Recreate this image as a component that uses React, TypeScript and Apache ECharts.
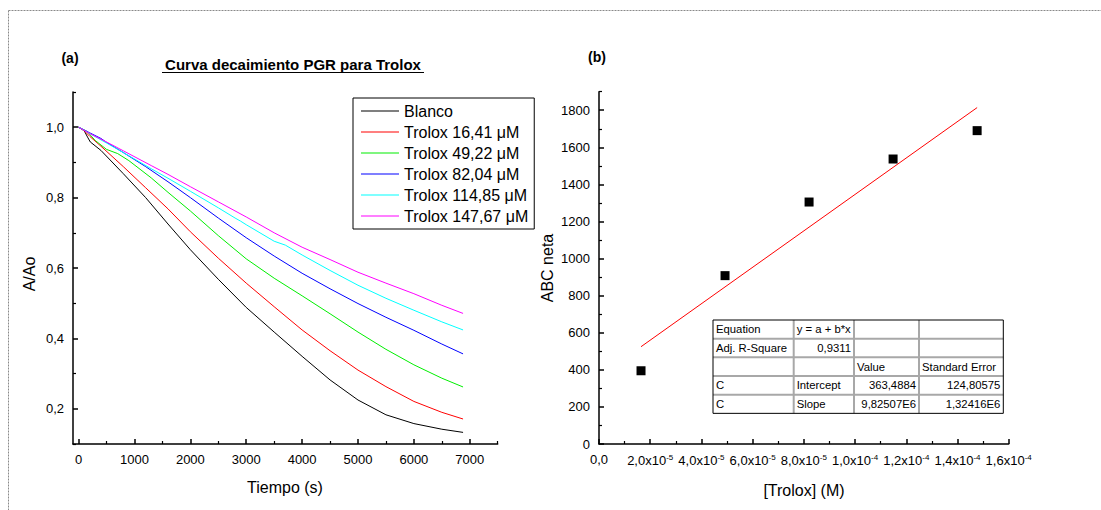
import React, { useEffect, useRef } from "react";
import * as echarts from "echarts";

// ---------- Data: panel (a) decay curves ----------
const blancoT = [0, 100, 160, 210, 400, 800, 1200, 1600, 2000, 2500, 3000, 3500, 4000, 4500, 5000, 5500, 6000, 6500, 6880];
const blancoV = [1.0, 0.99, 0.972, 0.958, 0.934, 0.868, 0.8, 0.725, 0.652, 0.568, 0.488, 0.418, 0.349, 0.282, 0.225, 0.183, 0.158, 0.142, 0.133];

const t16T = [0, 100, 200, 400, 800, 1200, 1600, 2000, 2500, 3000, 3500, 4000, 4500, 5000, 5500, 6000, 6500, 6880];
const t16V = [1.0, 0.99, 0.974, 0.946, 0.888, 0.828, 0.768, 0.703, 0.628, 0.557, 0.49, 0.424, 0.365, 0.31, 0.263, 0.221, 0.19, 0.171];

const t49T = [0, 150, 300, 500, 700, 900, 1300, 1600, 2000, 2500, 3000, 3500, 4000, 4500, 5000, 5500, 6000, 6500, 6880];
const t49V = [1.0, 0.988, 0.962, 0.937, 0.925, 0.905, 0.856, 0.815, 0.762, 0.692, 0.626, 0.571, 0.521, 0.47, 0.418, 0.369, 0.325, 0.287, 0.262];

const t82T = [0, 200, 400, 500, 800, 1200, 1600, 2000, 2500, 3000, 3500, 4000, 4500, 5000, 5500, 6000, 6500, 6880];
const t82V = [1.0, 0.984, 0.968, 0.957, 0.928, 0.888, 0.845, 0.8, 0.742, 0.686, 0.634, 0.585, 0.541, 0.499, 0.46, 0.423, 0.384, 0.356];

const t114T = [0, 200, 500, 800, 1300, 1600, 2000, 2500, 2800, 2900, 3000, 3500, 3700, 4000, 4500, 5000, 5500, 6000, 6500, 6880];
const t114V = [1.0, 0.982, 0.955, 0.928, 0.882, 0.855, 0.818, 0.771, 0.742, 0.733, 0.723, 0.676, 0.665, 0.637, 0.593, 0.551, 0.514, 0.48, 0.447, 0.424];

const t147T = [0, 200, 500, 800, 1300, 1600, 2000, 2500, 3000, 3500, 4000, 4500, 5000, 5500, 6000, 6500, 6880];
const t147V = [1.0, 0.982, 0.958, 0.933, 0.891, 0.866, 0.831, 0.788, 0.745, 0.7, 0.659, 0.624, 0.588, 0.557, 0.527, 0.494, 0.471];

const seriesNames = ["Blanco", "Trolox 16,41 μM", "Trolox 49,22 μM", "Trolox 82,04 μM", "Trolox 114,85 μM", "Trolox 147,67 μM"];
const seriesColors = ["#000000", "#ff0000", "#00ee00", "#0000ff", "#00ffff", "#ff00ff"];
const seriesT = [blancoT, t16T, t49T, t82T, t114T, t147T];
const seriesV = [blancoV, t16V, t49V, t82V, t114V, t147V];

// ---------- Data: panel (b) ----------
const troloxM = [1.641e-5, 4.922e-5, 8.204e-5, 1.1485e-4, 1.4767e-4];
const abcNeta = [395, 908, 1305, 1537, 1690];
const fitIntercept = 363.4884;
const fitSlope = 9.82507e6;

// ---------- Tick values / labels ----------
const aXMajor = [0, 1000, 2000, 3000, 4000, 5000, 6000, 7000];
const aXMinor = [500, 1500, 2500, 3500, 4500, 5500, 6500, 7500];
const aYMajor = [0.2, 0.4, 0.6, 0.8, 1.0];
const aYMinor = [0.1, 0.3, 0.5, 0.7, 0.9, 1.1];
const bXMajor = [0, 2e-5, 4e-5, 6e-5, 8e-5, 1e-4, 1.2e-4, 1.4e-4, 1.6e-4];
const bXLabels = ["0,0", "2,0x10^-5", "4,0x10^-5", "6,0x10^-5", "8,0x10^-5", "1,0x10^-4", "1,2x10^-4", "1,4x10^-4", "1,6x10^-4"];
const bXMinor = [1e-5, 3e-5, 5e-5, 7e-5, 9e-5, 1.1e-4, 1.3e-4, 1.5e-4];
const bYMajor = [0, 200, 400, 600, 800, 1000, 1200, 1400, 1600, 1800];
const bYMinor = [100, 300, 500, 700, 900, 1100, 1300, 1500, 1700, 1900];

const tableRows = [
  ["Equation", "y = a + b*x", "", ""],
  ["Adj. R-Square", "0,9311", "", ""],
  ["", "", "Value", "Standard Error"],
  ["C", "Intercept", "363,4884", "124,80575"],
  ["C", "Slope", "9,82507E6", "1,32416E6"],
];

const FONT = 'Arial, "Liberation Sans", sans-serif';

function majorAxis(gridIndex: number, min: number, max: number, ticks: number[], fmt: (v: number) => string, extraLabel: any = {}) {
  return {
    type: "value",
    gridIndex,
    min,
    max,
    axisLine: { show: true, onZero: false, lineStyle: { color: "#000", width: 1.5 } },
    axisTick: { show: true, inside: true, length: 5, customValues: ticks, lineStyle: { color: "#000", width: 1.5 } },
    axisLabel: {
      show: true,
      customValues: ticks,
      formatter: fmt,
      color: "#000",
      fontSize: 13,
      fontFamily: FONT,
      margin: 9,
      ...extraLabel,
    },
    splitLine: { show: false },
  };
}

function minorAxis(gridIndex: number, min: number, max: number, ticks: number[], position: string) {
  return {
    type: "value",
    gridIndex,
    min,
    max,
    position,
    offset: 0,
    axisLine: { show: false, onZero: false },
    axisTick: { show: true, inside: true, length: 3, customValues: ticks, lineStyle: { color: "#000", width: 1.2 } },
    axisLabel: { show: false },
    splitLine: { show: false },
  };
}

function commaFmt(d: number) {
  return (v: number) => v.toFixed(d).replace(".", ",");
}

export default function App() {
  const ref = useRef<HTMLDivElement>(null);

  useEffect(() => {
    document.body.style.margin = "0";
    if (!ref.current) return;
    const chart = echarts.init(ref.current, undefined, { renderer: "svg" });

    const lineSeries = seriesNames.map((name, i) => ({
      name,
      type: "line",
      xAxisIndex: 0,
      yAxisIndex: 0,
      data: seriesT[i].map((t, j) => [t, seriesV[i][j]]),
      showSymbol: false,
      symbol: "none",
      lineStyle: { color: seriesColors[i], width: 1 },
      itemStyle: { color: seriesColors[i] },
    }));

    const xFirst = troloxM[0];
    const xLast = troloxM[troloxM.length - 1];

    const colX = [713, 793.7, 854, 919, 1003.3];
    const rowTop = 320;
    const rowH = 18.67;
    const tableEls: any[] = [];
    tableEls.push({ type: "rect", shape: { x: colX[0], y: rowTop, width: colX[4] - colX[0], height: rowH * 5 }, style: { fill: "#fff", stroke: "none" }, z: 10 });
    for (let r = 1; r < 5; r++) {
      tableEls.push({ type: "line", shape: { x1: colX[0], y1: rowTop + r * rowH, x2: colX[4], y2: rowTop + r * rowH }, style: { stroke: "#a8a8a8", lineWidth: 2 }, z: 11 });
    }
    for (let c = 1; c < 4; c++) {
      tableEls.push({ type: "line", shape: { x1: colX[c], y1: rowTop, x2: colX[c], y2: rowTop + 5 * rowH }, style: { stroke: "#a8a8a8", lineWidth: 2 }, z: 11 });
    }
    tableEls.push({ type: "rect", shape: { x: colX[0], y: rowTop, width: colX[4] - colX[0], height: rowH * 5 }, style: { fill: "none", stroke: "#000", lineWidth: 1 }, z: 12 });
    tableRows.forEach((row, r) => {
      row.forEach((txt, c) => {
        if (!txt) return;
        const numeric = /^[0-9,E]+$/.test(txt);
        tableEls.push({
          type: "text",
          x: numeric ? colX[c + 1] - 3 : colX[c] + 3,
          y: rowTop + r * rowH + rowH / 2,
          style: { text: txt, fill: "#000", fontSize: 11.3, fontFamily: FONT, textAlign: numeric ? "right" : "left", textVerticalAlign: "middle" },
          z: 13,
        });
      });
    });

    const option: any = {
      animation: false,
      backgroundColor: "#fff",
      grid: [
        { left: 73, top: 92, width: 424.7, height: 352, containLabel: false },
        { left: 599, top: 91.7, width: 409.7, height: 352.3, containLabel: false },
      ],
      xAxis: [
        majorAxis(0, -100, 7500, aXMajor, (v: number) => String(v)),
        minorAxis(0, -100, 7500, aXMinor, "bottom"),
        majorAxis(1, 0, 1.6e-4, bXMajor, (v: number) => {
          let idx = 0;
          let best = Infinity;
          bXMajor.forEach((m, i) => {
            const d = Math.abs(m - v);
            if (d < best) { best = d; idx = i; }
          });
          const lab = bXLabels[idx];
          const parts = lab.split("^");
          return parts.length > 1 ? `{m|${parts[0]}}{s|${parts[1]}}` : `{m|${parts[0]}}`;
        }, {
          rich: {
            m: { fontSize: 13, fontFamily: FONT, color: "#000" },
            s: { fontSize: 8, fontFamily: FONT, color: "#000", verticalAlign: "top", padding: [0, 0, 7, 0] },
          },
        }),
        minorAxis(1, 0, 1.6e-4, bXMinor, "bottom"),
      ],
      yAxis: [
        majorAxis(0, 0.1, 1.1, aYMajor, commaFmt(1)),
        minorAxis(0, 0.1, 1.1, aYMinor, "left"),
        majorAxis(1, 0, 1900, bYMajor, (v: number) => String(v)),
        minorAxis(1, 0, 1900, bYMinor, "left"),
      ],
      legend: {
        show: true,
        data: seriesNames.map((n) => ({ name: n, icon: "rect" })),
        orient: "vertical",
        left: 353,
        top: 98,
        itemWidth: 38,
        itemHeight: 1.2,
        itemGap: 3,
        padding: [4, 6, 4, 8],
        borderColor: "#000",
        borderWidth: 1,
        backgroundColor: "#fff",
        selectedMode: false,
        textStyle: { fontSize: 16, fontFamily: FONT, color: "#000", lineHeight: 18 },
      },
      series: [
        ...lineSeries,
        {
          name: "ABC",
          type: "scatter",
          xAxisIndex: 2,
          yAxisIndex: 2,
          data: troloxM.map((x, i) => [x, abcNeta[i]]),
          symbol: "rect",
          symbolSize: 9,
          itemStyle: { color: "#000", opacity: 1 },
          z: 5,
        },
        {
          name: "Fit",
          type: "line",
          xAxisIndex: 2,
          yAxisIndex: 2,
          data: [
            [xFirst, fitIntercept + fitSlope * xFirst],
            [xLast, fitIntercept + fitSlope * xLast],
          ],
          showSymbol: false,
          symbol: "none",
          lineStyle: { color: "#ff0000", width: 1 },
          z: 4,
        },
      ],
      graphic: [
        { type: "line", shape: { x1: 8.5, y1: 10.5, x2: 1101, y2: 10.5 }, style: { stroke: "#8a8a8a", lineWidth: 1, lineDash: [2, 1] } },
        { type: "line", shape: { x1: 8.5, y1: 10.5, x2: 8.5, y2: 510 }, style: { stroke: "#8a8a8a", lineWidth: 1, lineDash: [2, 1] } },
        { type: "text", x: 70, y: 58, style: { text: "(a)", fontSize: 14, fontWeight: "bold", fontFamily: FONT, fill: "#000", textAlign: "center", textVerticalAlign: "middle" } },
        { type: "text", x: 597, y: 57, style: { text: "(b)", fontSize: 14, fontWeight: "bold", fontFamily: FONT, fill: "#000", textAlign: "center", textVerticalAlign: "middle" } },
        { type: "text", x: 293, y: 64.5, style: { text: "Curva decaimiento PGR para Trolox", fontSize: 15, fontWeight: "bold", fontFamily: FONT, fill: "#000", textAlign: "center", textVerticalAlign: "middle" } },
        { type: "line", shape: { x1: 162, y1: 72.5, x2: 424, y2: 72.5 }, style: { stroke: "#000", lineWidth: 1.2 } },
        { type: "text", x: 285, y: 487, style: { text: "Tiempo (s)", fontSize: 16, fontFamily: FONT, fill: "#000", textAlign: "center", textVerticalAlign: "middle" } },
        { type: "text", x: 29, y: 274, rotation: Math.PI / 2, style: { text: "A/Ao", fontSize: 16, fontFamily: FONT, fill: "#000", textAlign: "center", textVerticalAlign: "middle" } },
        { type: "text", x: 804, y: 490, style: { text: "[Trolox] (M)", fontSize: 16, fontFamily: FONT, fill: "#000", textAlign: "center", textVerticalAlign: "middle" } },
        { type: "text", x: 547, y: 268, rotation: Math.PI / 2, style: { text: "ABC neta", fontSize: 16, fontFamily: FONT, fill: "#000", textAlign: "center", textVerticalAlign: "middle" } },
        ...tableEls,
      ],
    };

    chart.setOption(option);
    return () => chart.dispose();
  }, []);

  return <div ref={ref} style={{ width: 1101, height: 510 }} />;
}
